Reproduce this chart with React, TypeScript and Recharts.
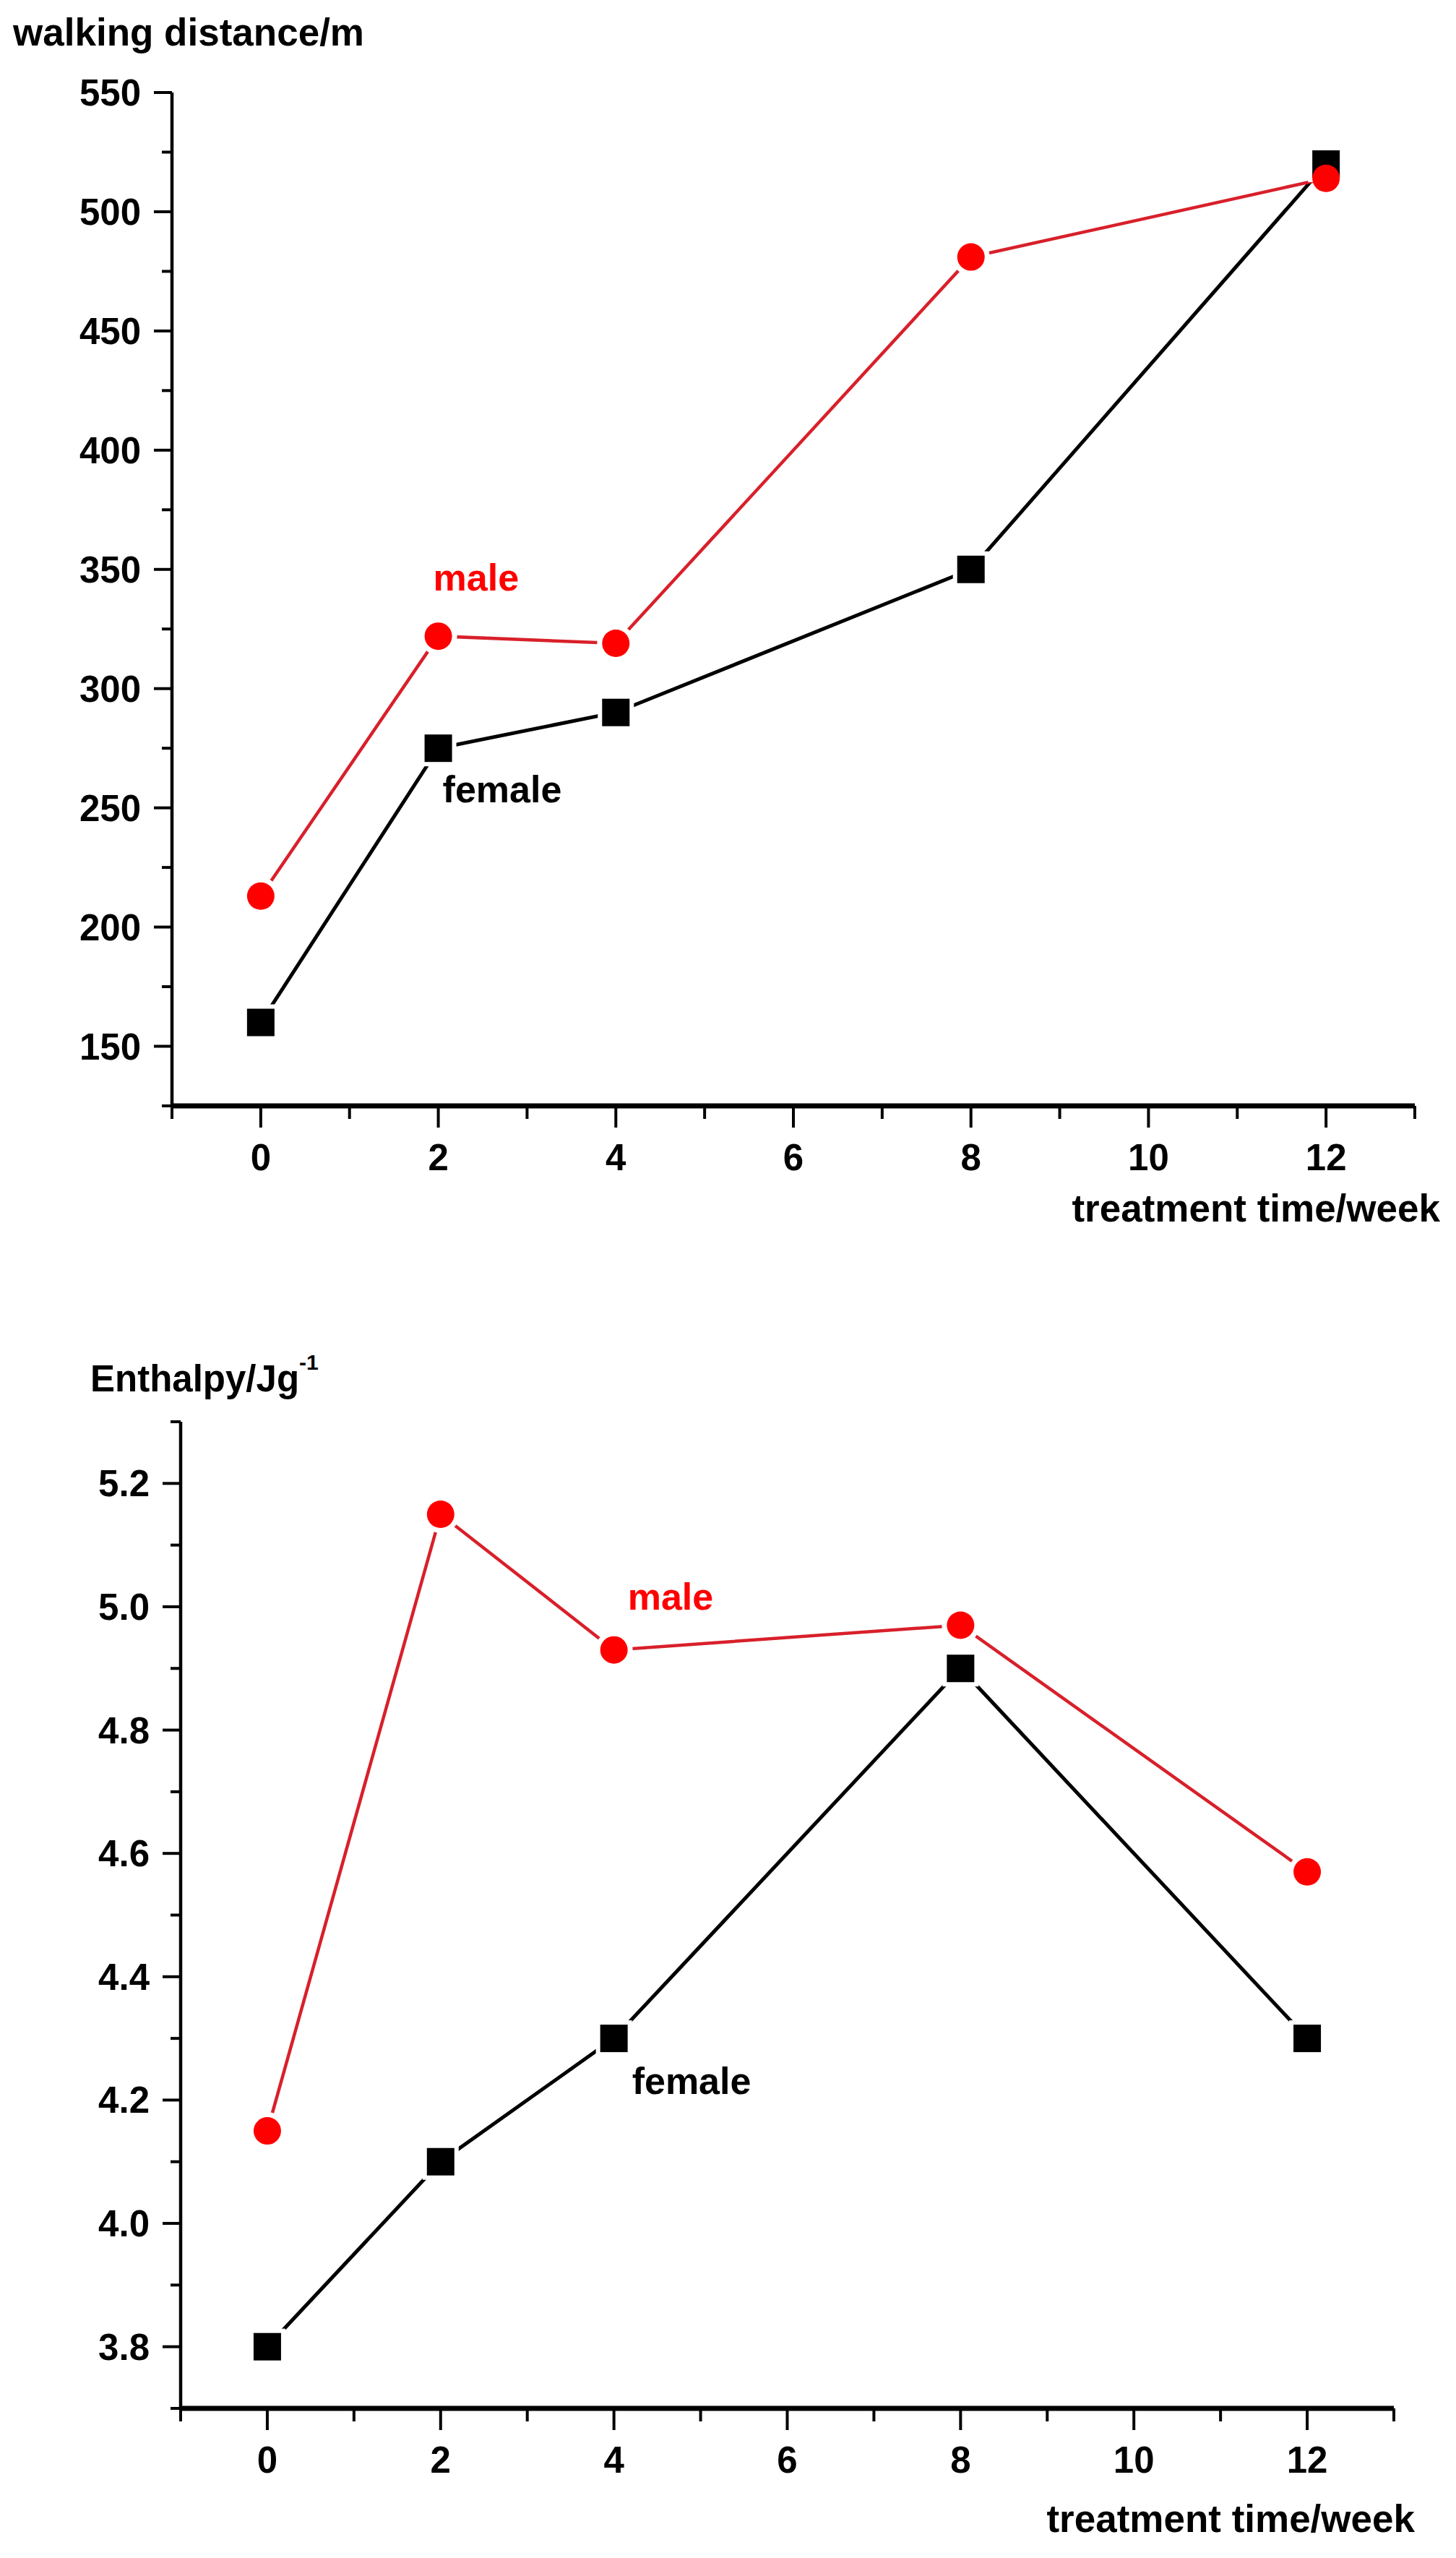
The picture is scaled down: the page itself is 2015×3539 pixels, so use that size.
import React from 'react';
import { LineChart, Line, XAxis, YAxis, ReferenceDot, Label } from 'recharts';

const weeks = [0, 2, 4, 8, 12];
const walkFemale = [160, 275, 290, 350, 520];
const walkMale = [213, 322, 319, 481, 514];
const enthalpyFemale = [3.8, 4.1, 4.3, 4.9, 4.3];
const enthalpyMale = [4.15, 5.15, 4.93, 4.97, 4.57];

const weekTicks = [-1, 0, 1, 2, 3, 4, 5, 6, 7, 8, 9, 10, 11, 12, 13];
const weekLabels = [0, 2, 4, 6, 8, 10, 12];
const walkTicks = [125, 150, 175, 200, 225, 250, 275, 300, 325, 350, 375, 400, 425, 450, 475, 500, 525, 550];
const walkLabels = [150, 200, 250, 300, 350, 400, 450, 500, 550];
const enthalpyTicks = [3.7, 3.8, 3.9, 4.0, 4.1, 4.2, 4.3, 4.4, 4.5, 4.6, 4.7, 4.8, 4.9, 5.0, 5.1, 5.2, 5.3];
const enthalpyLabels = ['3.8', '4.0', '4.2', '4.4', '4.6', '4.8', '5.0', '5.2'];

const walkData = weeks.map((w, i) => ({ week: w, female: walkFemale[i], male: walkMale[i] }));
const enthalpyData = weeks.map((w, i) => ({ week: w, female: enthalpyFemale[i], male: enthalpyMale[i] }));

const FONT = '"Liberation Sans", Arial, sans-serif';
const RED = '#ff0000';
const RED_LINE = '#d8202a';

// x ticks: long with a label on even weeks, short otherwise
const XTick = (props: any) => {
  const { x, y, payload } = props;
  const major = weekLabels.includes(payload.value);
  return (
    <g>
      <line x1={x} x2={x} y1={y} y2={y + (major ? 30 : 18)} stroke="#000" strokeWidth={4} />
      {major && (
        <text x={x} y={y + 89} textAnchor="middle" fontSize={51} fontWeight="bold" fontFamily={FONT} fill="#000">
          {payload.value}
        </text>
      )}
    </g>
  );
};

const makeYTick = (labels: string[], fmt: (v: number) => string) => (props: any) => {
  const { x, y, payload } = props;
  const text = fmt(payload.value);
  const major = labels.includes(text);
  return (
    <g>
      <line x1={x} x2={x - (major ? 25 : 14)} y1={y} y2={y} stroke="#000" strokeWidth={4} />
      {major && (
        <text x={x - 43} y={y + 18} textAnchor="end" fontSize={51} fontWeight="bold" fontFamily={FONT} fill="#000">
          {text}
        </text>
      )}
    </g>
  );
};

const WalkYTick = makeYTick(walkLabels.map(String), (v) => String(v));
const EnthalpyYTick = makeYTick(enthalpyLabels, (v) => v.toFixed(1));

// markers get a white ring so the line stops short of them, like the original plot
const SquareDot = (props: any) => {
  const { cx, cy, index } = props;
  return (
    <g key={`sq-${index}`}>
      <rect x={cx - 25} y={cy - 25} width={50} height={50} fill="#fff" />
      <rect x={cx - 19} y={cy - 19} width={38} height={38} fill="#000" />
    </g>
  );
};

const makeCircleDot = (noRing: number[]) => (props: any) => {
  const { cx, cy, index, payload } = props;
  return (
    <g key={`ci-${index}`}>
      {!noRing.includes(payload.week) && <circle cx={cx} cy={cy} r={26} fill="#fff" />}
      <circle cx={cx} cy={cy} r={19} fill={RED} />
    </g>
  );
};

const note = (text: string, color: string, dx: number, dy: number) => (props: any) => {
  const { viewBox } = props;
  return (
    <text x={viewBox.x + dx} y={viewBox.y + dy} fontSize={52} fontWeight="bold" fontFamily={FONT} fill={color}>
      {text}
    </text>
  );
};

const xTitle = (dx: number, dy: number) => (props: any) => {
  const { viewBox } = props;
  return (
    <text x={viewBox.x + viewBox.width + dx} y={viewBox.y + dy} textAnchor="end" fontSize={53} fontWeight="bold" fontFamily={FONT} fill="#000">
      treatment time/week
    </text>
  );
};

const WalkYTitle = (props: any) => {
  const { viewBox } = props;
  return (
    <text x={18} y={viewBox.y - 65} fontSize={53} fontWeight="bold" fontFamily={FONT} fill="#000">
      walking distance/m
    </text>
  );
};

const EnthalpyYTitle = (props: any) => {
  const { viewBox } = props;
  return (
    <text x={125} y={viewBox.y - 42} fontSize={51} fontWeight="bold" fontFamily={FONT} fill="#000">
      Enthalpy/Jg
      <tspan fontSize={30} dy={-30}>-1</tspan>
    </text>
  );
};

const App: React.FC = () => {
  return (
    <div style={{ position: 'relative', width: 2015, height: 3539, background: '#fff' }}>
      <style>{'body{margin:0;background:#fff}'}</style>

      {/* walking distance */}
      <div style={{ position: 'absolute', left: 0, top: 0 }}>
        <LineChart width={2015} height={1760} data={walkData} margin={{ top: 128, right: 57, bottom: 100, left: 0 }}>
          <XAxis
            dataKey="week"
            type="number"
            domain={[-1, 13]}
            ticks={weekTicks}
            interval={0}
            tick={XTick}
            tickLine={false}
            tickSize={0}
            tickMargin={0}
            height={130}
            axisLine={{ stroke: '#000', strokeWidth: 7 }}
          >
            <Label content={xTitle(35, 160)} />
          </XAxis>
          <YAxis
            type="number"
            domain={[125, 550]}
            ticks={walkTicks}
            interval={0}
            tick={WalkYTick}
            tickLine={false}
            tickSize={0}
            tickMargin={0}
            width={238}
            axisLine={{ stroke: '#000', strokeWidth: 4.5 }}
          >
            <Label content={WalkYTitle} />
          </YAxis>
          <Line dataKey="female" stroke="#000" strokeWidth={5} dot={SquareDot} isAnimationActive={false} />
          <Line dataKey="male" stroke={RED_LINE} strokeWidth={4.5} dot={makeCircleDot([12])} isAnimationActive={false} />
          <ReferenceDot x={2} y={322} r={0} label={note('male', RED, -7, -63)} />
          <ReferenceDot x={2} y={275} r={0} label={note('female', '#000', 6, 75)} />
        </LineChart>
      </div>

      {/* enthalpy */}
      <div style={{ position: 'absolute', left: 0, top: 1760 }}>
        <LineChart width={2015} height={1779} data={enthalpyData} margin={{ top: 207, right: 86, bottom: 77, left: 0 }}>
          <XAxis
            dataKey="week"
            type="number"
            domain={[-1, 13]}
            ticks={weekTicks}
            interval={0}
            tick={XTick}
            tickLine={false}
            tickSize={0}
            tickMargin={0}
            height={130}
            axisLine={{ stroke: '#000', strokeWidth: 7 }}
          >
            <Label content={xTitle(29, 171)} />
          </XAxis>
          <YAxis
            type="number"
            domain={[3.7, 5.3]}
            ticks={enthalpyTicks}
            interval={0}
            tick={EnthalpyYTick}
            tickLine={false}
            tickSize={0}
            tickMargin={0}
            width={250}
            axisLine={{ stroke: '#000', strokeWidth: 4.5 }}
          >
            <Label content={EnthalpyYTitle} />
          </YAxis>
          <Line dataKey="female" stroke="#000" strokeWidth={5} dot={SquareDot} isAnimationActive={false} />
          <Line dataKey="male" stroke={RED_LINE} strokeWidth={4.5} dot={makeCircleDot([])} isAnimationActive={false} />
          <ReferenceDot x={4} y={4.93} r={0} label={note('male', RED, 19, -56)} />
          <ReferenceDot x={4} y={4.3} r={0} label={note('female', '#000', 25, 77)} />
        </LineChart>
      </div>
    </div>
  );
};

export default App;
